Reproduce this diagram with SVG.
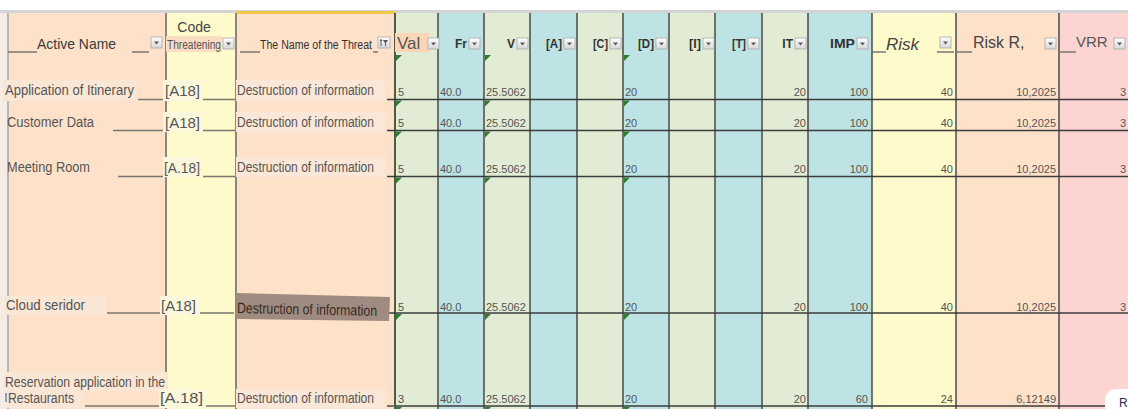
<svg xmlns="http://www.w3.org/2000/svg" width="1128" height="409" viewBox="0 0 1128 409">
<defs>
<style>
.f{font-family:"Liberation Sans",Arial,sans-serif}
.lbl{font-family:"Liberation Sans",Arial,sans-serif;font-size:14px;fill:#555}
.hb{font-family:"Liberation Sans",Arial,sans-serif;font-size:12px;font-weight:bold;fill:#333;text-anchor:end}
.num{font-family:"Liberation Sans",Arial,sans-serif;font-size:11px;fill:#555}
.numr{font-family:"Liberation Sans",Arial,sans-serif;font-size:11px;fill:#555;text-anchor:end}
.us{stroke:#7a7670;stroke-width:1.5}
.vl{stroke:#4a4a4a;stroke-width:1.5}
.hl{stroke:#3c3c3c;stroke-width:1.5}
.btn{fill:url(#bg);stroke:#a8a8a8;stroke-width:0.8}
.tri{fill:#5a5a5a}
.gm{fill:#2e7d32}
</style>
<linearGradient id="bg" x1="0" y1="0" x2="0" y2="1"><stop offset="0" stop-color="#ffffff"/><stop offset="1" stop-color="#d8d8d8"/></linearGradient>
<g id="dd"><rect class="btn" x="0" y="0" width="11" height="11"/><path class="tri" d="M3,4.5 h5 l-2.5,3 z"/></g>
<path id="gt" class="gm" d="M0,0 h6 L0,6 z"/>
</defs>

<rect width="1128" height="409" fill="#ffffff"/>

<g id="columns">
<rect x="0" y="13" width="8" height="396" fill="#f7ece4"/>
<rect x="8" y="13" width="158" height="396" fill="#fde2c9"/>
<rect x="166" y="13" width="70" height="396" fill="#fefacc"/>
<rect x="236" y="13" width="159" height="396" fill="#fde2c9"/>
<rect x="395" y="13" width="43" height="396" fill="#e2ecd4"/>
<rect x="438" y="13" width="46" height="396" fill="#bee3e4"/>
<rect x="484" y="13" width="46" height="396" fill="#e2ecd4"/>
<rect x="530" y="13" width="47" height="396" fill="#bee3e4"/>
<rect x="577" y="13" width="46" height="396" fill="#e2ecd4"/>
<rect x="623" y="13" width="46" height="396" fill="#bee3e4"/>
<rect x="669" y="13" width="46" height="396" fill="#e2ecd4"/>
<rect x="715" y="13" width="47" height="396" fill="#bee3e4"/>
<rect x="762" y="13" width="46" height="396" fill="#e2ecd4"/>
<rect x="808" y="13" width="64" height="396" fill="#bee3e4"/>
<rect x="872" y="13" width="84" height="396" fill="#fefacc"/>
<rect x="956" y="13" width="103" height="396" fill="#fde2c9"/>
<rect x="1059" y="13" width="69" height="396" fill="#fcd5d2"/>
<rect x="0" y="10" width="1128" height="3" fill="#d4d4d4"/>
<rect x="236" y="11" width="159" height="3" fill="#f2c84b"/>
</g>

<g id="grid">
<line x1="8" y1="13" x2="8" y2="409" stroke="#b8b4bc" stroke-width="2"/>
<line x1="166" y1="13" x2="166" y2="409" stroke="#8c8680" stroke-width="2"/>
<line x1="236" y1="13" x2="236" y2="409" stroke="#8c8680" stroke-width="2"/>
<line x1="395" y1="13" x2="395" y2="409" stroke="#4f5a48" stroke-width="2"/>
<line class="vl" x1="438" y1="13" x2="438" y2="409"/>
<line class="vl" x1="484" y1="13" x2="484" y2="409"/>
<line class="vl" x1="530" y1="13" x2="530" y2="409" stroke="#6a6a6a"/>
<line class="vl" x1="577" y1="13" x2="577" y2="409" stroke="#6a6a6a"/>
<line class="vl" x1="623" y1="13" x2="623" y2="409"/>
<line class="vl" x1="669" y1="13" x2="669" y2="409"/>
<line class="vl" x1="715" y1="13" x2="715" y2="409"/>
<line class="vl" x1="762" y1="13" x2="762" y2="409"/>
<line class="vl" x1="808" y1="13" x2="808" y2="409"/>
<line class="vl" x1="872" y1="13" x2="872" y2="409"/>
<line class="vl" x1="956" y1="13" x2="956" y2="409"/>
<line class="vl" x1="1059" y1="13" x2="1059" y2="409"/>
<line class="hl" x1="387" y1="99.5" x2="1128" y2="99.5"/>
<line class="hl" x1="387" y1="130.5" x2="1128" y2="130.5"/>
<line class="hl" x1="387" y1="176.5" x2="1128" y2="176.5"/>
<line class="hl" x1="387" y1="313" x2="1128" y2="313"/>
<line class="hl" x1="387" y1="406" x2="1128" y2="406"/>
<use href="#gt" x="396" y="55"/><use href="#gt" x="485" y="55"/><use href="#gt" x="624" y="55"/>
<use href="#gt" x="396" y="100.5"/><use href="#gt" x="485" y="100.5"/><use href="#gt" x="624" y="100.5"/>
<use href="#gt" x="396" y="131.5"/><use href="#gt" x="485" y="131.5"/><use href="#gt" x="624" y="131.5"/>
<use href="#gt" x="396" y="177.5"/><use href="#gt" x="485" y="177.5"/><use href="#gt" x="624" y="177.5"/>
<use href="#gt" x="396" y="314"/><use href="#gt" x="485" y="314"/><use href="#gt" x="624" y="314"/>
<use href="#gt" x="396" y="407"/><use href="#gt" x="485" y="407"/><use href="#gt" x="624" y="407"/>
</g>

<g id="header">
<line class="us" x1="8" y1="52" x2="37" y2="52"/>
<text class="f" x="37" y="49" font-size="15" fill="#3a3a3a" textLength="79" lengthAdjust="spacingAndGlyphs">Active Name</text>
<line class="us" x1="132" y1="52" x2="149" y2="52"/>
<use href="#dd" x="151" y="37"/>
<text class="f" x="194" y="32" font-size="14" fill="#444" text-anchor="middle">Code</text>
<rect x="166" y="36" width="56" height="16" fill="#fbdcc4"/>
<text class="f" x="167" y="49" font-size="12" fill="#555" textLength="54" lengthAdjust="spacingAndGlyphs">Threatening</text>
<use href="#dd" x="223" y="38"/>
<line class="us" x1="240" y1="52" x2="260" y2="52"/>
<text class="f" x="260" y="49" font-size="12" fill="#333" textLength="112" lengthAdjust="spacingAndGlyphs">The Name of the Threat</text>
<line class="us" x1="373" y1="52" x2="378" y2="52"/>
<g id="filter-icon">
<rect class="btn" x="378" y="37" width="12" height="11"/>
<line x1="381" y1="39.5" x2="381" y2="46" stroke="#555" stroke-width="1"/>
<path d="M379.6,41 l1.4,-2 l1.4,2 z" fill="#555"/>
<path d="M383,40 h5 l-2,3 v3 h-1 v-3 z" fill="#555"/>
</g>
<rect x="395" y="33" width="34" height="19" fill="#fcd5b6"/>
<text class="f" x="397" y="49" font-size="17" fill="#555">Val</text>
<use href="#dd" x="428" y="38"/>
<text class="hb" x="467" y="48">Fr</text><use href="#dd" x="469" y="38"/>
<text class="hb" x="515" y="48">V</text><use href="#dd" x="517" y="38"/>
<text class="hb" x="562" y="48" textLength="16" lengthAdjust="spacingAndGlyphs">[A]</text><use href="#dd" x="564" y="38"/>
<text class="hb" x="608" y="48" textLength="15" lengthAdjust="spacingAndGlyphs">[C]</text><use href="#dd" x="610" y="38"/>
<text class="hb" x="654" y="48" textLength="16" lengthAdjust="spacingAndGlyphs">[D]</text><use href="#dd" x="656" y="38"/>
<text class="hb" x="701" y="48" textLength="12" lengthAdjust="spacingAndGlyphs">[I]</text><use href="#dd" x="703" y="38"/>
<text class="hb" x="746" y="48" textLength="14" lengthAdjust="spacingAndGlyphs">[T]</text><use href="#dd" x="748" y="38"/>
<text class="hb" x="793" y="48">IT</text><use href="#dd" x="795" y="38"/>
<text class="hb" x="855" y="48" textLength="25" lengthAdjust="spacingAndGlyphs">IMP</text><use href="#dd" x="857" y="38"/>
<line class="us" x1="872" y1="52" x2="886" y2="52"/>
<text class="f" x="886" y="50" font-size="17" fill="#444" font-style="italic">Risk</text>
<line class="us" x1="937" y1="52" x2="954" y2="52"/>
<use href="#dd" x="940" y="37"/>
<line class="us" x1="957" y1="52" x2="972" y2="52"/>
<text class="f" x="973" y="48" font-size="16" fill="#444">Risk R,</text>
<use href="#dd" x="1045" y="38"/>
<line class="us" x1="1060" y1="52" x2="1076" y2="52"/>
<text class="f" x="1076" y="47" font-size="15" fill="#555">VRR</text>
<use href="#dd" x="1114" y="38"/>
</g>

<g id="row1">
<rect x="3" y="80" width="134" height="21" fill="#fae6d4"/>
<text class="lbl" x="5" y="95" textLength="129" lengthAdjust="spacingAndGlyphs">Application of Itinerary</text>
<line class="us" x1="138" y1="99.5" x2="163" y2="99.5"/>
<rect x="163" y="80" width="39" height="21" fill="#fbf7dc"/>
<text class="f" x="165" y="96" font-size="15" fill="#555">[A18]</text>
<line class="us" x1="203" y1="99.5" x2="235" y2="99.5"/>
<rect x="236" y="80" width="149" height="21" fill="#fae7d7"/>
<text class="lbl" x="237" y="95" textLength="137" lengthAdjust="spacingAndGlyphs">Destruction of information</text>
<text class="num" x="398" y="96">5</text><text class="num" x="440" y="96">40.0</text><text class="num" x="486" y="96">25.5062</text><text class="num" x="625" y="96">20</text>
<text class="numr" x="806" y="96">20</text><text class="numr" x="868" y="96">100</text><text class="numr" x="953" y="96">40</text><text class="numr" x="1056" y="96">10,2025</text><text class="numr" x="1126" y="96">3</text>
</g>

<g id="row2">
<text class="lbl" x="7" y="127" textLength="87" lengthAdjust="spacingAndGlyphs">Customer Data</text>
<line class="us" x1="113" y1="130.5" x2="163" y2="130.5"/>
<rect x="163" y="112" width="39" height="20" fill="#fbf7dc"/>
<text class="f" x="165" y="128" font-size="15" fill="#555">[A18]</text>
<line class="us" x1="203" y1="130.5" x2="235" y2="130.5"/>
<rect x="236" y="112" width="149" height="20" fill="#fae7d7"/>
<text class="lbl" x="237" y="127" textLength="137" lengthAdjust="spacingAndGlyphs">Destruction of information</text>
<text class="num" x="398" y="127">5</text><text class="num" x="440" y="127">40.0</text><text class="num" x="486" y="127">25.5062</text><text class="num" x="625" y="127">20</text>
<text class="numr" x="806" y="127">20</text><text class="numr" x="868" y="127">100</text><text class="numr" x="953" y="127">40</text><text class="numr" x="1056" y="127">10,2025</text><text class="numr" x="1126" y="127">3</text>
</g>

<g id="row3">
<text class="lbl" x="7" y="172" textLength="83" lengthAdjust="spacingAndGlyphs">Meeting Room</text>
<line class="us" x1="118" y1="176.5" x2="163" y2="176.5"/>
<rect x="163" y="157" width="39" height="20" fill="#fbf7dc"/>
<text class="f" x="164" y="173" font-size="15" fill="#555" textLength="36" lengthAdjust="spacingAndGlyphs">[A.18]</text>
<line class="us" x1="203" y1="176.5" x2="235" y2="176.5"/>
<rect x="236" y="157" width="149" height="20" fill="#fae7d7"/>
<text class="lbl" x="237" y="172" textLength="137" lengthAdjust="spacingAndGlyphs">Destruction of information</text>
<text class="num" x="398" y="173">5</text><text class="num" x="440" y="173">40.0</text><text class="num" x="486" y="173">25.5062</text><text class="num" x="625" y="173">20</text>
<text class="numr" x="806" y="173">20</text><text class="numr" x="868" y="173">100</text><text class="numr" x="953" y="173">40</text><text class="numr" x="1056" y="173">10,2025</text><text class="numr" x="1126" y="173">3</text>
</g>

<g id="row4">
<rect x="5" y="296" width="101" height="19" fill="#fae6d4"/>
<text class="lbl" x="6" y="310" textLength="79" lengthAdjust="spacingAndGlyphs">Cloud seridor</text>
<line class="us" x1="107" y1="313" x2="161" y2="313"/>
<rect x="160" y="296" width="40" height="19" fill="#fbf7dc"/>
<text class="f" x="161" y="311" font-size="15" fill="#555">[A18]</text>
<line class="us" x1="200" y1="313" x2="234" y2="313"/>
<polygon points="236,293 390,297 389,321 236,319" fill="#9f8b7f"/>
<text class="f" x="237" y="313" font-size="15" fill="#3b2a20" textLength="140" lengthAdjust="spacingAndGlyphs" transform="rotate(1.2 237 313)">Destruction of information</text>
<text class="num" x="398" y="311">5</text><text class="num" x="440" y="311">40.0</text><text class="num" x="486" y="311">25.5062</text><text class="num" x="625" y="311">20</text>
<text class="numr" x="806" y="311">20</text><text class="numr" x="868" y="311">100</text><text class="numr" x="953" y="311">40</text><text class="numr" x="1056" y="311">10,2025</text><text class="numr" x="1126" y="311">3</text>
</g>

<g id="row5">
<rect x="4" y="372" width="164" height="19" fill="#fae6d4"/>
<text class="lbl" x="5" y="387" textLength="160" lengthAdjust="spacingAndGlyphs">Reservation application in the</text>
<rect x="5" y="393" width="2" height="9" fill="#8aa0c8"/>
<rect x="7" y="391" width="77" height="17" fill="#fae6d4"/>
<text class="lbl" x="8" y="403" textLength="66" lengthAdjust="spacingAndGlyphs">Restaurants</text>
<line class="us" x1="85" y1="406" x2="160" y2="406"/>
<rect x="159" y="389" width="46" height="19" fill="#fbf7dc"/>
<text class="f" x="160" y="403" font-size="15" fill="#555" textLength="43" lengthAdjust="spacingAndGlyphs">[A.18]</text>
<line class="us" x1="206" y1="406" x2="235" y2="406"/>
<rect x="236" y="389" width="149" height="19" fill="#fae7d7"/>
<text class="lbl" x="237" y="403" textLength="137" lengthAdjust="spacingAndGlyphs">Destruction of information</text>
<line class="us" x1="387" y1="406" x2="395" y2="406"/>
<text class="num" x="398" y="403">3</text><text class="num" x="440" y="403">40.0</text><text class="num" x="486" y="403">25.5062</text><text class="num" x="625" y="403">20</text>
<text class="numr" x="806" y="403">20</text><text class="numr" x="868" y="403">60</text><text class="numr" x="953" y="403">24</text><text class="numr" x="1056" y="403">6,12149</text>
</g>

<g id="corner-badge">
<rect x="1105" y="389" width="40" height="30" rx="11" fill="#ffffff"/>
<text class="f" x="1119" y="407" font-size="12" fill="#1f2d4a">R</text>
</g>
</svg>
